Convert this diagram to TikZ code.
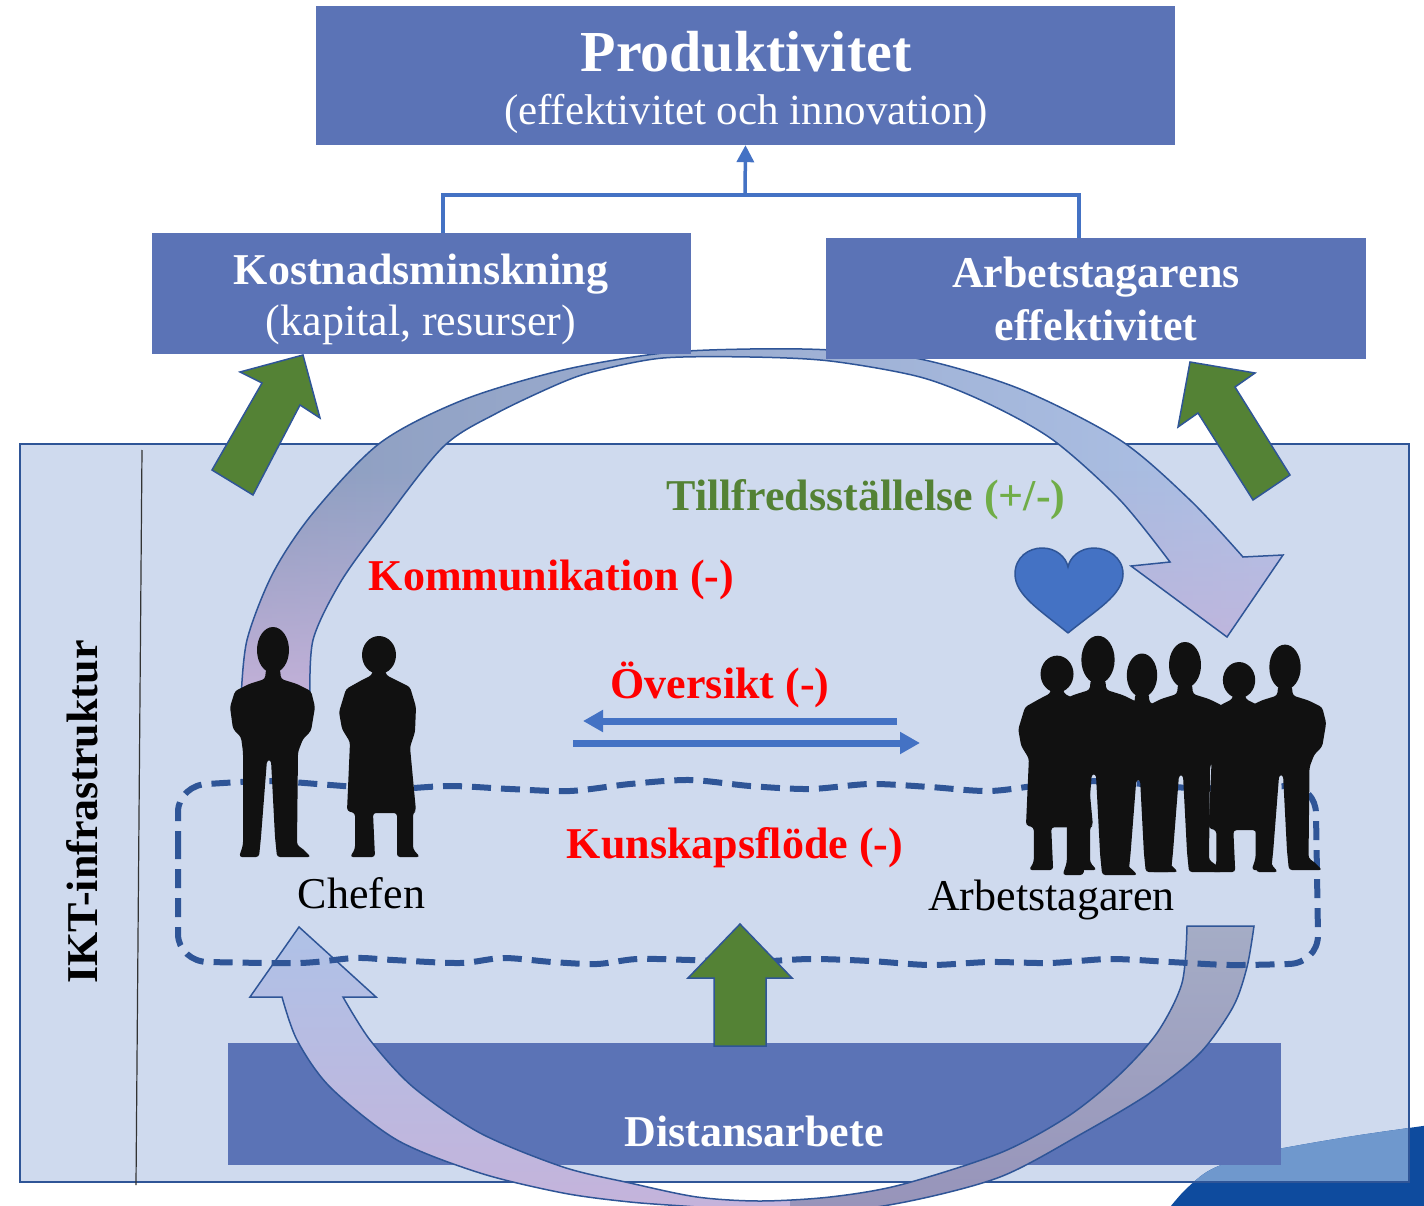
\documentclass[tikz,border=0pt]{standalone}
\usepackage{fontspec}
\setmainfont{Liberation Serif}
\usetikzlibrary{arrows.meta}
\usetikzlibrary{fadings}

\definecolor{boxblue}{RGB}{91,115,182}
\definecolor{panelblue}{RGB}{207,218,238}
\definecolor{edgeblue}{RGB}{47,85,151}
\definecolor{linkblue}{RGB}{68,114,196}
\definecolor{leafgreen}{RGB}{84,130,53}
\definecolor{lightgreen}{RGB}{112,173,71}
\definecolor{swooshdark}{RGB}{14,75,158}
\definecolor{swooshlight}{RGB}{111,152,205}
\definecolor{arcgrey}{RGB}{140,156,190}
\definecolor{arcsky}{RGB}{174,194,231}
\definecolor{arclilac}{RGB}{198,178,218}
\definecolor{lowgrey}{RGB}{165,173,198}
\definecolor{lowplum}{RGB}{150,146,185}
\definecolor{shadow}{RGB}{17,17,17}

\tikzfading[name=fade up, top color=transparent!100, bottom color=transparent!0]

\tikzset{
  bluebox/.style={fill=boxblue, draw=none, inner sep=0pt},
  lbl/.style={anchor=base, inner sep=0pt, font=\fontsize{44}{48}\selectfont\bfseries},
  plain/.style={anchor=base, inner sep=0pt, font=\fontsize{44}{48}\selectfont},
  link/.style={draw=linkblue, line width=3.5pt},
  flow/.style={draw=linkblue, line width=7pt, -{Triangle[length=20pt,width=21pt]}},
  greenarrow/.style={fill=leafgreen, draw=edgeblue, line width=1.5pt},
  arcedge/.style={draw=edgeblue, line width=1.5pt},
  dashloop/.style={draw=edgeblue, line width=6pt, dash pattern=on 19pt off 10pt}
}

% outline of the curved arrow over the top of the panel
\newcommand{\toparcpath}{
  plot[smooth] coordinates {(241,700) (247,640) (273,573) (313,513) (380,443)
    (463,400) (563,370) (663,353) (750,349) (830,350) (920,359) (1020,389)
    (1120,440) (1190,500) (1243,557)}
  -- (1283,555) -- (1227,637) -- (1131,566)
  -- plot[smooth] coordinates {(1170,562) (1120,500) (1053,440) (987,403)
    (920,377) (830,361) (750,357) (663,358) (600,370) (563,382) (497,413)
    (443,447) (380,527) (340,583) (313,640) (310,700)}
  -- cycle}

% outline of the curved arrow under the panel
\newcommand{\lowarcpath}{
  (282,997) -- (250,997) -- (299,927) -- (376,997)
  -- plot[smooth] coordinates {(343,997) (370,1040) (413,1087) (480,1133)
    (563,1167) (630,1183) (697,1197) (760,1201) (830,1197) (900,1185)
    (1000,1153) (1067,1117) (1117,1077) (1157,1033) (1182,983) (1187,926)}
  -- plot[smooth] coordinates {(1254,926) (1247,967) (1233,1007) (1200,1053)
    (1150,1093) (1083,1133) (1000,1177) (900,1203) (800,1215) (697,1207)
    (630,1202) (563,1193) (480,1173) (397,1140) (330,1087) (297,1040)
    (282,997)}
  -- cycle}

\newcommand{\swooshpath}{
  plot[smooth] coordinates {(1166,1212) (1185,1190) (1210,1170) (1250,1155)
    (1300,1145) (1360,1135) (1430,1125)}
  -- (1430,1212) -- cycle}

\newcommand{\drawperson}[4]{
  \def \px {#1}
  \def \py {#2}
  \def \ps {#3}
  \def \kind {#4}
  % Shift to the feet of the figure
  \begin{scope}[shift={(\px,\py)}, scale=\ps]
    \ifnum \kind=0
      % Figure in trousers, hands in the pockets
      \fill[shadow, rounded corners=3pt] (-34,0) -- (-14,0) -- (-12,-20)
        -- (-6,-97) -- (-2,-97) -- (2,-20) -- (4,0) -- (38,0) -- (30,-8)
        -- (24,-12) -- (25,-105) -- (30,-118) -- (38,-126) -- (42,-150)
        -- (38,-166) -- (24,-173) -- (8,-178) -- (7,-188) -- (-7,-188)
        -- (-8,-178) -- (-24,-173) -- (-38,-166) -- (-43,-150) -- (-40,-128)
        -- (-32,-120) -- (-30,-105) -- (-30,-12) -- cycle;
      \fill[shadow] (0,-207) ellipse (16 and 23);
    \else
      % Figure in a long coat
      \fill[shadow, rounded corners=3pt] (-30,0) -- (-5,0) -- (-7,-44)
        -- (17,-44) -- (17,0) -- (40,0) -- (33,-8) -- (33,-44) -- (36,-46)
        -- (30,-110) -- (35,-125) -- (36,-150) -- (30,-170) -- (16,-177)
        -- (6,-182) -- (5,-188) -- (-7,-188) -- (-8,-182) -- (-18,-177)
        -- (-34,-168) -- (-41,-145) -- (-38,-128) -- (-30,-115) -- (-33,-46)
        -- (-25,-44) -- (-25,-8) -- cycle;
      \fill[shadow] (-1,-202) ellipse (17 and 19);
    \fi
  \end{scope}
}

\begin{document}
\begin{tikzpicture}[x=1pt, y=-1pt]
  \useasboundingbox (0,0) rectangle (1424,1206);

  % panel and the swoosh in its corner
  \fill[panelblue] (20,444) rectangle (1409,1182);
  \fill[swooshdark] \swooshpath;
  \begin{scope}
    \clip (20,444) rectangle (1409,1182);
    \fill[swooshlight] \swooshpath;
  \end{scope}
  \draw[edgeblue, line width=2pt] (20,444) rectangle (1409,1182);
  \draw[black!80, line width=1.2pt] (142,450) -- (136,1185);
  \node[lbl, rotate=90] (ikt) at (97,812) {IKT-infrastruktur};

  \node[bluebox, minimum width=1053, minimum height=122] (distans) at (754.5,1104) {};
  \node[lbl, text=white] (distanstext) at (754,1146) {Distansarbete};

  % curved arrows
  \begin{scope}
    \clip \toparcpath;
    \shade[left color=arcgrey, right color=arcsky] (230,340) rectangle (1290,710);
    \fill[arclilac, path fading=fade up] (230,470) rectangle (1290,710);
  \end{scope}
  \draw[arcedge] \toparcpath;
  \begin{scope}
    \clip \lowarcpath;
    \shade[top color=arcsky, bottom color=arclilac] (240,920) rectangle (790,1230);
    \shade[top color=lowgrey, bottom color=lowplum] (790,920) rectangle (1260,1230);
  \end{scope}
  \draw[arcedge] \lowarcpath;

  % wavy dashed loop
  \draw[dashloop] (178,850) -- (178,812) .. controls (178,796) and (192,784) .. (208,784)
    -- plot[smooth] coordinates {(208,784) (270,781) (330,785) (390,789) (450,786)
      (510,789) (570,791) (630,784) (690,780) (750,786) (810,789) (870,784)
      (930,787) (990,791) (1050,784) (1110,781) (1170,787) (1230,788) (1288,786)}
    .. controls (1305,786) and (1316,798) .. (1316,814) -- (1318,935)
    .. controls (1318,952) and (1305,964) .. (1288,964)
    -- plot[smooth] coordinates {(1288,964) (1230,965) (1170,962) (1110,959)
      (1050,963) (990,962) (930,965) (870,961) (810,959) (750,962) (690,960)
      (637,959) (597,964) (552,962) (503,958) (460,963) (393,960) (355,958)
      (300,963) (208,962)}
    .. controls (192,962) and (178,950) .. (178,934) -- cycle;

  % green block arrows
  \draw[greenarrow] (303,355) -- (320,418) -- (300,405) -- (253,495) -- (212,470)
    -- (262,383) -- (240,372) -- cycle;
  \draw[greenarrow] (1190,362) -- (1255,373) -- (1235,387) -- (1290,475)
    -- (1253,500) -- (1198,413) -- (1178,427) -- cycle;
  \draw[greenarrow] (740,924) -- (792,978) -- (766,978) -- (766,1046) -- (714,1046)
    -- (714,978) -- (688,978) -- cycle;

  % boxes at the top
  \node[bluebox, minimum width=859, minimum height=139] (prod) at (745.5,75.5) {};
  \node[lbl, text=white, font=\fontsize{58}{62}\selectfont\bfseries] (prodtitle)
    at (746,72) {Produktivitet};
  \node[plain, text=white, font=\fontsize{43}{46}\selectfont] (prodsub)
    at (746,125) {(effektivitet och innovation)};
  \node[bluebox, minimum width=539, minimum height=121] (kost) at (421.5,293.5) {};
  \node[lbl, text=white] (kosttitle) at (421,285) {Kostnadsminskning};
  \node[plain, text=white] (kostsub) at (421,335) {(kapital, resurser)};
  \node[bluebox, minimum width=540, minimum height=121] (arbeff) at (1096,298.5) {};
  \node[lbl, text=white] (arbefftitle) at (1096,288) {Arbetstagarens};
  \node[lbl, text=white] (arbeffsub) at (1096,341) {effektivitet};

  \coordinate (join) at (745,195);
  \draw[link] ([xshift=21.5]kost.north) |- (join) -| ([xshift=-17]arbeff.north);
  \draw[link, -{Triangle[length=17pt,width=17pt]}] (join) -- (prod.south);

  % heart
  \draw[fill=linkblue, draw=edgeblue, line width=1.5pt] (1068,633)
    .. controls (1040,610) and (1015,595) .. (1015,574)
    .. controls (1015,557) and (1029,548) .. (1042,548)
    .. controls (1056,548) and (1066,557) .. (1068,567)
    .. controls (1070,557) and (1080,548) .. (1094,548)
    .. controls (1107,548) and (1123,557) .. (1123,574)
    .. controls (1123,595) and (1096,610) .. (1068,633);

  % people
 %\drawperson{  x}{  y}{scale}{kind}
  \drawperson{273}{857}{1.0}{0}
  \drawperson{380}{857}{1.0}{1}
  \drawperson{1058}{870}{0.97}{1}
  \drawperson{1098}{875}{1.04}{0}
  \drawperson{1142}{872}{0.95}{0}
  \drawperson{1185}{872}{1.0}{0}
  \drawperson{1240}{872}{0.95}{1}
  \drawperson{1285}{870}{0.98}{0}

  % overview arrows
  \coordinate (ovR) at (897,721);
  \coordinate (ovL) at (583,721);
  \coordinate (okL) at (573,743);
  \coordinate (okR) at (920,743);
  \draw[flow] (ovR) -- (ovL);
  \draw[flow] (okL) -- (okR);

  % labels
  \node[lbl] (tillfreds) at (866,510)
    {\textcolor{leafgreen}{Tillfredsställelse} \textcolor{lightgreen}{(+/-)}};
  \node[lbl, text=red] (komm) at (551.5,590) {Kommunikation (-)};
  \node[lbl, text=red] (oversikt) at (720,698) {Översikt (-)};
  \node[lbl, text=red] (kunskap) at (735,858) {Kunskapsflöde (-)};
  \node[plain] (chefen) at (361.5,908) {Chefen};
  \node[plain] (arbetstagaren) at (1051.5,910) {Arbetstagaren};
\end{tikzpicture}
\end{document}
